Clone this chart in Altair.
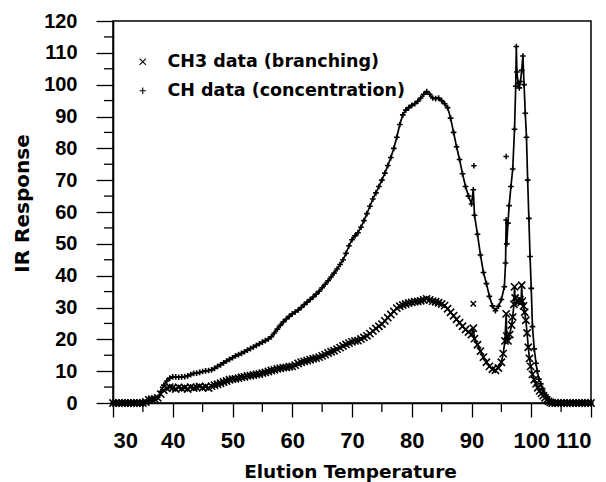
import altair as alt
import pandas as pd

CH_NAME = "CH data (concentration)"
CH3_NAME = "CH3 data (branching)"

# CH (concentration) trace: elution temperature (deg C) and IR response
ch_temp = [
    30.0, 30.5, 31.0, 31.5, 32.0, 32.5, 33.0, 33.5, 34.0, 34.5, 35.0, 35.5,
    36.0, 36.5, 37.0, 37.5, 38.0, 38.5, 39.0, 39.5, 40.0, 40.5, 41.0, 41.5,
    42.0, 42.5, 43.0, 43.5, 44.0, 44.5, 45.0, 45.5, 46.0, 46.5, 47.0, 47.5,
    48.0, 48.5, 49.0, 49.5, 50.0, 50.5, 51.0, 51.5, 52.0, 52.5, 53.0, 53.5,
    54.0, 54.5, 55.0, 55.5, 56.0, 56.5, 57.0, 57.5, 58.0, 58.5, 59.0, 59.5,
    60.0, 60.5, 61.0, 61.5, 62.0, 62.5, 63.0, 63.5, 64.0, 64.5, 65.0, 65.5,
    66.0, 66.5, 67.0, 67.5, 68.0, 68.5, 69.0, 69.5, 70.0, 70.5, 71.0, 71.5,
    72.0, 72.5, 73.0, 73.5, 74.0, 74.5, 75.0, 75.5, 76.0, 76.5, 77.0, 77.5,
    78.0, 78.5, 79.0, 79.5, 80.0, 80.5, 81.0, 81.5, 82.0, 82.5, 83.0, 83.5,
    84.0, 84.5, 85.0, 85.5, 86.0, 86.5, 87.0, 87.5, 88.0, 88.5, 89.0, 89.5,
    90.0, 90.3, 90.5, 91.0, 91.5, 92.0, 92.5, 93.0, 93.5, 94.0, 94.5, 95.0,
    95.5, 95.7, 95.8, 95.9, 96.1, 96.3, 96.6, 96.9, 97.2, 97.4, 97.5, 97.6,
    97.8, 98.0, 98.2, 98.4, 98.6, 98.8, 99.0, 99.2, 99.4, 99.6, 99.8, 100.0,
    100.2, 100.5, 100.8, 101.0, 101.3, 101.6, 101.9, 102.2, 102.5, 102.7, 103.0, 103.3,
    103.6, 104.0, 104.5, 105.0, 105.5, 106.0, 106.5, 107.0, 107.5, 108.0, 108.5, 109.0,
    109.5, 110.0,
]
ch_resp = [
    0.0, 0.0, 0.0, 0.0, 0.0, 0.0, 0.0, 0.0, 0.0, 0.0, 0.0, 0.3,
    1.2, 1.3, 1.5, 1.8, 3.6, 5.6, 6.9, 7.8, 8.2, 8.2, 8.1, 8.2,
    8.3, 8.5, 8.9, 9.3, 9.4, 9.6, 9.9, 10.1, 10.2, 10.4, 10.9, 11.5,
    12.0, 12.6, 13.2, 13.7, 14.2, 14.8, 15.2, 15.6, 16.1, 16.6, 17.1, 17.6,
    18.1, 18.6, 19.1, 19.6, 20.1, 20.8, 22.0, 23.2, 24.4, 25.5, 26.4, 27.2,
    28.0, 28.6, 29.2, 30.0, 30.9, 31.7, 32.5, 33.3, 34.2, 35.1, 36.2, 37.3,
    38.4, 39.6, 40.8, 42.1, 43.5, 45.0, 47.0, 49.4, 51.3, 52.5, 53.5, 55.2,
    57.3, 59.5, 61.8, 64.1, 66.0, 68.0, 70.0, 72.2, 74.6, 77.1, 80.0, 83.5,
    87.5, 90.5, 92.0, 92.8, 93.5, 94.0, 94.8, 95.8, 97.0, 97.8, 97.0, 95.8,
    95.6, 95.8, 95.0, 94.0, 92.8, 89.5, 85.0, 80.5, 76.5, 72.0, 68.0, 65.0,
    62.5, 67.0, 59.0, 53.0, 46.5, 41.0, 37.5, 33.5, 30.5, 29.0, 30.4, 32.5,
    36.5, 44.0, 57.5, 50.0, 56.5, 62.0, 68.0, 73.5, 86.0, 99.5, 112.0, 104.0,
    100.5, 99.0, 101.0, 104.5, 109.0, 100.0, 91.0, 83.5, 70.0, 58.0, 46.0, 36.0,
    24.0, 17.0, 12.5, 10.0, 7.5, 6.0, 4.5, 3.0, 2.0, 1.2, 0.8, 0.4,
    0.0, 0.0, 0.0, 0.0, 0.0, 0.0, 0.0, 0.0, 0.0, 0.0, 0.0, 0.0,
    0.0, 0.0,
]

# CH3 (branching) trace
ch3_temp = [
    30.0, 30.5, 31.0, 31.5, 32.0, 32.5, 33.0, 33.5, 34.0, 34.5, 35.0, 35.5,
    36.0, 36.5, 37.0, 37.5, 38.0, 38.5, 39.0, 39.5, 40.0, 40.5, 41.0, 41.5,
    42.0, 42.5, 43.0, 43.5, 44.0, 44.5, 45.0, 45.5, 46.0, 46.5, 47.0, 47.5,
    48.0, 48.5, 49.0, 49.5, 50.0, 50.5, 51.0, 51.5, 52.0, 52.5, 53.0, 53.5,
    54.0, 54.5, 55.0, 55.5, 56.0, 56.5, 57.0, 57.5, 58.0, 58.5, 59.0, 59.5,
    60.0, 60.5, 61.0, 61.5, 62.0, 62.5, 63.0, 63.5, 64.0, 64.5, 65.0, 65.5,
    66.0, 66.5, 67.0, 67.5, 68.0, 68.5, 69.0, 69.5, 70.0, 70.5, 71.0, 71.5,
    72.0, 72.5, 73.0, 73.5, 74.0, 74.5, 75.0, 75.5, 76.0, 76.5, 77.0, 77.5,
    78.0, 78.5, 79.0, 79.5, 80.0, 80.5, 81.0, 81.5, 82.0, 82.5, 83.0, 83.5,
    84.0, 84.5, 85.0, 85.5, 86.0, 86.5, 87.0, 87.5, 88.0, 88.5, 89.0, 89.5,
    90.0, 90.3, 90.5, 91.0, 91.5, 92.0, 92.5, 93.0, 93.5, 94.0, 94.5, 95.0,
    95.3, 95.6, 95.8, 95.9, 96.1, 96.4, 96.7, 96.9, 97.1, 97.2, 97.3, 97.6,
    97.9, 98.1, 98.3, 98.4, 98.5, 98.7, 98.9, 99.1, 99.3, 99.5, 99.7, 99.9,
    100.2, 100.5, 100.8, 101.1, 101.4, 101.7, 102.0, 102.3, 102.6, 102.9, 103.2, 103.5,
    104.0, 104.5, 105.0, 105.5, 106.0, 106.5, 107.0, 107.5, 108.0, 108.5, 109.0, 109.5,
    110.0,
]
ch3_resp = [
    0.0, 0.0, 0.0, 0.0, 0.0, 0.0, 0.0, 0.0, 0.0, 0.0, 0.0, 0.3,
    1.0, 1.2, 1.3, 1.6, 2.8, 4.0, 4.6, 5.0, 4.8, 4.4, 4.9, 4.6,
    4.8, 4.4, 5.0, 4.7, 4.9, 5.2, 4.8, 5.1, 4.7, 5.3, 5.6, 5.9,
    6.2, 6.6, 6.9, 7.3, 7.5, 7.6, 7.8, 8.1, 8.2, 8.5, 8.6, 8.8,
    9.0, 9.1, 9.4, 9.6, 9.9, 10.2, 10.4, 10.7, 10.9, 11.1, 11.2, 11.4,
    11.5, 11.9, 12.4, 12.8, 13.1, 13.3, 13.6, 13.9, 14.1, 14.4, 14.8, 15.2,
    15.7, 16.1, 16.4, 16.9, 17.4, 17.9, 18.4, 18.8, 19.2, 19.5, 19.6, 20.1,
    20.6, 21.1, 21.8, 22.6, 23.4, 24.1, 24.8, 25.8, 26.8, 27.8, 28.8, 29.8,
    30.4, 30.8, 31.1, 31.4, 31.6, 31.8, 31.9, 32.1, 32.4, 32.7, 32.4, 32.0,
    31.8, 31.5, 31.1, 30.6, 29.6, 28.5, 27.4, 26.3, 25.2, 24.1, 23.1, 22.3,
    21.5, 23.5, 20.2, 18.3, 16.3, 14.4, 12.8, 11.5, 10.6, 10.3, 11.0, 12.8,
    15.5, 19.5, 28.0, 21.0, 19.5, 21.5, 24.5, 27.0, 31.0, 36.5, 33.0, 32.0,
    31.8, 32.5, 31.6, 37.0, 32.0, 30.5, 28.5, 26.0, 22.0, 17.5, 14.0, 11.5,
    9.0, 7.3, 6.0, 4.8, 3.8, 3.0, 2.3, 1.6, 1.0, 0.5, 0.2, 0.0,
    0.0, 0.0, 0.0, 0.0, 0.0, 0.0, 0.0, 0.0, 0.0, 0.0, 0.0, 0.0,
    0.0,
]

# isolated readings that sit off the traces
ch_stray_temp = [90.4, 95.8]
ch_stray_resp = [74.5, 77.4]
ch3_stray_temp = [90.3]
ch3_stray_resp = [31.2]

x_major = [30, 40, 50, 60, 70, 80, 90, 100, 110]
x_minor = [35, 45, 55, 65, 75, 85, 95, 105]
y_major = [0, 10, 20, 30, 40, 50, 60, 70, 80, 90, 100, 110, 120]
y_minor = [5, 15, 25, 35, 45, 55, 65, 75, 85, 95, 105, 115]

W, H = 478, 382

traces = pd.concat([
    pd.DataFrame({"temp": ch_temp, "resp": ch_resp, "series": CH_NAME}),
    pd.DataFrame({"temp": ch3_temp, "resp": ch3_resp, "series": CH3_NAME}),
])
strays = pd.concat([
    pd.DataFrame({"temp": ch_stray_temp, "resp": ch_stray_resp, "series": CH_NAME}),
    pd.DataFrame({"temp": ch3_stray_temp, "resp": ch3_stray_resp, "series": CH3_NAME}),
])

PLUS = "M-1,0L1,0M0,-1L0,1"
CROSS = "M-1,-1L1,1M-1,1L1,-1"

x_scale = alt.Scale(domain=[30, 110], nice=False, zero=False)
y_scale = alt.Scale(domain=[0, 120], nice=False)

x_axis = alt.Axis(
    values=x_major, tickSize=14, tickWidth=1.3, tickColor="black",
    domainColor="black", domainWidth=1.6, grid=False, labelOverlap=False,
    labelFont="Liberation Sans", labelFontWeight="bold",
    labelFontSize=22, labelColor="black", labelPadding=13,
    title="Elution Temperature", titleFont="DejaVu Sans", titleFontWeight="bold",
    titleFontSize=18.5, titleColor="black", titleX=237, titleY=74,
    titleBaseline="alphabetic", titleAlign="center",
)
y_axis = alt.Axis(
    values=y_major, tickSize=17, tickWidth=1.3, tickColor="black",
    domainColor="black", domainWidth=1.6, grid=False, labelOverlap=False,
    labelFont="Liberation Sans", labelFontWeight="bold",
    labelFontSize=20, labelColor="black", labelPadding=19,
    title="IR Response", titleFont="DejaVu Sans", titleFontWeight="bold",
    titleFontSize=20, titleColor="black", titleX=-91, titleY=182,
    titleAngle=270, titleAlign="center", titleBaseline="middle",
)

X = alt.X("temp:Q", scale=x_scale, axis=x_axis)
Y = alt.Y("resp:Q", scale=y_scale, axis=y_axis)

shape = alt.Shape(
    "series:N",
    scale=alt.Scale(domain=[CH3_NAME, CH_NAME], range=[CROSS, PLUS]),
    legend=alt.Legend(
        title=None, orient="none", legendX=21, legendY=32,
        labelFont="DejaVu Sans", labelFontWeight="bold", labelFontSize=17.5,
        labelColor="black", labelOffset=16, labelLimit=0, rowPadding=10,
        symbolSize=40, symbolStrokeColor="black", symbolStrokeWidth=1.1,
        symbolFillColor="transparent", padding=0,
    ),
)

lines = alt.Chart(traces).mark_line(color="black", strokeWidth=1.7).encode(
    x=X, y=Y, detail="series:N", order="temp:Q"
)


def trace_points(name, size):
    """Marker layer for one trace; the noisier branching trace gets larger markers."""
    return alt.Chart(traces).transform_filter(
        alt.datum.series == name
    ).mark_point(
        filled=False, color="black", strokeWidth=1.6, size=size, opacity=1
    ).encode(x=X, y=Y, shape=shape)


ch3_points = trace_points(CH3_NAME, 52)
ch_points = trace_points(CH_NAME, 32)
stray_points = alt.Chart(strays).mark_point(
    filled=False, color="black", strokeWidth=1.5, size=30, opacity=1
).encode(x=X, y=Y, shape=shape)

y_minor_ticks = alt.Chart(pd.DataFrame({"resp": y_minor})).mark_rule(
    color="black", strokeWidth=1.3
).encode(y=Y, x=alt.value(-9), x2=alt.value(0))
x_minor_ticks = alt.Chart(pd.DataFrame({"temp": x_minor})).mark_rule(
    color="black", strokeWidth=1.3
).encode(x=X, y=alt.value(H), y2=alt.value(H + 9))

chart = alt.layer(
    lines, ch3_points, ch_points, stray_points, y_minor_ticks, x_minor_ticks
).properties(
    width=W, height=H,
    autosize=alt.AutoSizeParams(type="none"),
    padding={"left": 113, "top": 21, "right": 15, "bottom": 79},
    background="white",
).configure_view(stroke="black", strokeWidth=1.5)

chart.save("out.html", embed_options={"renderer": "svg", "actions": False})
